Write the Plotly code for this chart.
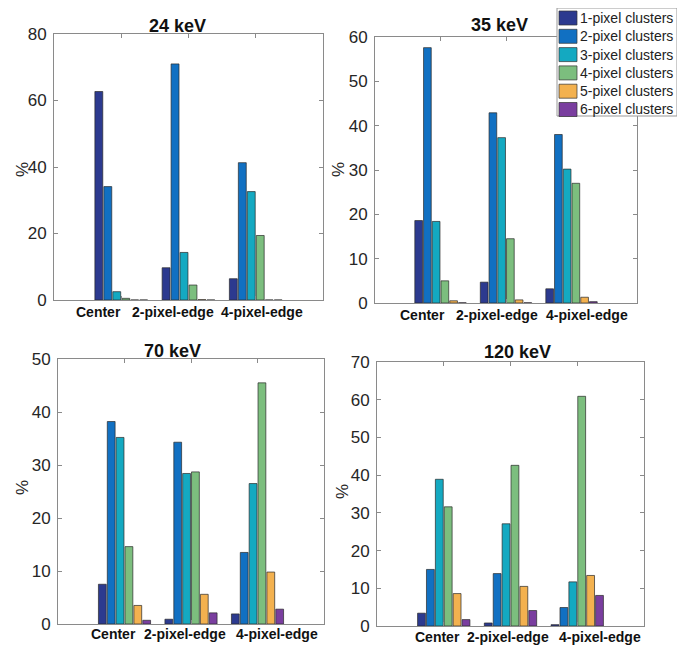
import plotly.graph_objects as go

# page body has an 8px default margin; the figure is sized so it fills the window exactly
OFF = 8
W, H = 685 - OFF, 646 - OFF

categories = ["Center", "2-pixel-edge", "4-pixel-edge"]
series_names = ["1-pixel clusters", "2-pixel clusters", "3-pixel clusters",
                "4-pixel clusters", "5-pixel clusters", "6-pixel clusters"]
colors = ["#2c3a8f", "#1170c2", "#14a9c1", "#7cbe7e", "#f3b14f", "#7a3e9f"]

titles = ["24 keV", "35 keV", "70 keV", "120 keV"]
y_max = [80, 60, 50, 70]
y_step = [20, 10, 10, 10]

# rows = cluster size (1..6), columns = categories
kev24 = [[62.7, 9.7, 6.4], [34.1, 71.0, 41.3], [2.5, 14.3, 32.6],
         [0.5, 4.5, 19.4], [0.0, 0.1, 0.0], [0.0, 0.0, 0.0]]
kev35 = [[18.6, 4.7, 3.2], [57.6, 42.9, 38.0], [18.4, 37.3, 30.2],
         [5.0, 14.5, 27.0], [0.5, 0.7, 1.3], [0.05, 0.05, 0.3]]
kev70 = [[7.5, 0.9, 1.9], [38.2, 34.3, 13.5], [35.2, 28.4, 26.5],
         [14.6, 28.7, 45.5], [3.5, 5.6, 9.8], [0.7, 2.1, 2.8]]
kev120 = [[3.4, 0.8, 0.35], [15.0, 13.9, 4.9], [38.9, 27.1, 11.7],
          [31.6, 42.6, 60.9], [8.6, 10.5, 13.4], [1.7, 4.1, 8.1]]
datasets = [kev24, kev35, kev70, kev120]

# ---- layout (pixel geometry in window coordinates) ----
boxes = [(54, 323, 34, 300), (375, 637, 37, 303), (58, 324, 359, 624), (377, 644, 362, 626)]
title_pos = [(177, 26), (499, 25), (172, 351), (517, 352)]
pct_pos = [(22, 170), (338, 170), (22, 488), (342, 492)]
label_pos = [[(98, 312), (173, 312), (262, 312)],
             [(422, 315), (497, 315), (587, 315)],
             [(113, 634), (185, 634), (277, 634)],
             [(437, 637), (508, 637), (600, 637)]]

FONT = "Liberation Sans, Arial, sans-serif"
TXT = "#262626"
AX = "#8a8a8a"

def px(x):
    return (x - OFF) / W

def py(y):
    return 1 - (y - OFF) / H

fig = go.Figure()
xpos = [1, 2, 3]
for k, data in enumerate(datasets):
    xa = "x" if k == 0 else f"x{k+1}"
    ya = "y" if k == 0 else f"y{k+1}"
    for s, vals in enumerate(data):
        fig.add_trace(go.Bar(
            x=xpos, y=vals, name=series_names[s],
            marker=dict(color=colors[s], line=dict(color="#2a2a2a", width=0.7)),
            xaxis=xa, yaxis=ya, showlegend=False,
            offsetgroup=str(s),
        ))

layout = dict(
    template="none",
    width=W, height=H, autosize=False,
    margin=dict(l=0, r=0, t=0, b=0, pad=0, autoexpand=False),
    paper_bgcolor="white", plot_bgcolor="white",
    barmode="group", bargap=0.2, bargroupgap=0.12,
    font=dict(family=FONT, color=TXT),
    showlegend=False,
)
annotations = []
shapes = []
for k, (l, r, t, b) in enumerate(boxes):
    sx = "" if k == 0 else str(k + 1)
    layout["xaxis" + sx] = dict(
        domain=[px(l), px(r)], range=[0, 4], tickvals=xpos,
        showticklabels=False, ticks="inside", ticklen=4, tickcolor=AX,
        showline=True, linecolor=AX, linewidth=1, mirror="allticks",
        showgrid=False, zeroline=False, anchor="y" + sx, fixedrange=True,
        automargin=False,
    )
    layout["yaxis" + sx] = dict(
        domain=[py(b), py(t)], range=[0, y_max[k]], dtick=y_step[k],
        ticks="inside", ticklen=4, tickcolor=AX,
        showline=True, linecolor=AX, linewidth=1, mirror="allticks",
        showgrid=False, zeroline=False, anchor="x" + sx, fixedrange=True,
        tickfont=dict(family=FONT, size=17, color=TXT), ticklabelstandoff=3,
        automargin=False,
    )
    tx, ty = title_pos[k]
    annotations.append(dict(text="<b>" + titles[k] + "</b>", x=px(tx), y=py(ty),
                            xref="paper", yref="paper", showarrow=False,
                            xanchor="center", yanchor="middle",
                            font=dict(family=FONT, size=18, color="#111111")))
    cx, cy = pct_pos[k]
    annotations.append(dict(text="%", x=px(cx), y=py(cy), xref="paper", yref="paper",
                            showarrow=False, textangle=-90, xanchor="center", yanchor="middle",
                            font=dict(family=FONT, size=17, color=TXT)))
    for c, (lx, ly) in enumerate(label_pos[k]):
        annotations.append(dict(text="<b>" + categories[c] + "</b>", x=px(lx), y=py(ly),
                                xref="paper", yref="paper", showarrow=False,
                                xanchor="center", yanchor="middle",
                                font=dict(family=FONT, size=14, color="#111111")))

# legend box (drawn over the 35 keV axes)
LX0, LX1, LY0, LY1 = 557, 677, 8, 116
shapes.append(dict(type="rect", xref="paper", yref="paper",
                   x0=px(LX0), x1=px(LX1), y0=py(LY1), y1=py(LY0),
                   fillcolor="white", line=dict(color="#999999", width=1), layer="above"))
for s, name in enumerate(series_names):
    yc = 18.0 + 18.3 * s
    shapes.append(dict(type="rect", xref="paper", yref="paper",
                       x0=px(559), x1=px(577), y0=py(yc + 7), y1=py(yc - 7),
                       fillcolor=colors[s], line=dict(color="#333333", width=0.7), layer="above"))
    annotations.append(dict(text=name, x=px(578), y=py(yc), xref="paper", yref="paper",
                            showarrow=False, xanchor="left", yanchor="middle",
                            font=dict(family=FONT, size=14, color="#222222")))

layout["annotations"] = annotations
layout["shapes"] = shapes
fig.update_layout(**layout)
fig.write_html("out.html")
